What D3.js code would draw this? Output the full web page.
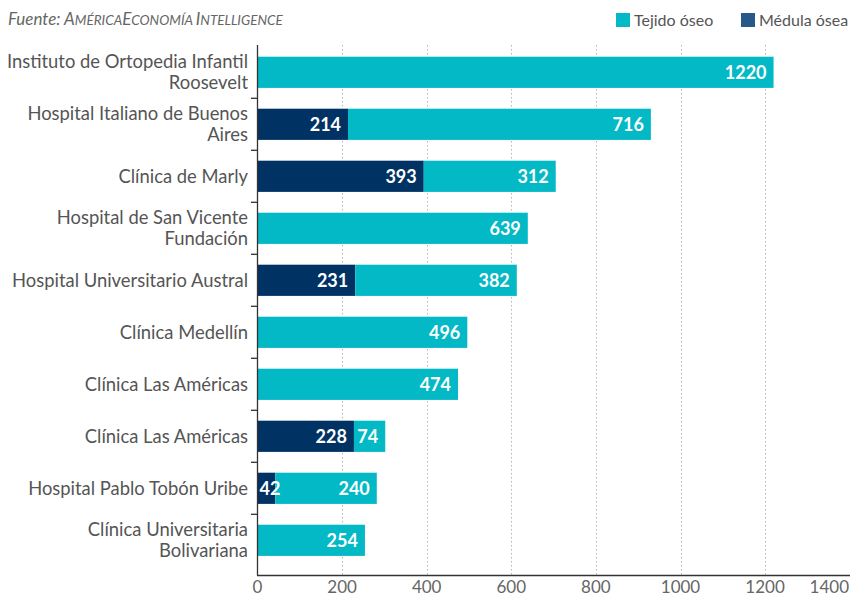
<!DOCTYPE html>
<html><head><meta charset="utf-8">
<script src="https://cdn.jsdelivr.net/npm/d3@7"></script>
<style>
html,body{margin:0;padding:0;background:#fff;}
svg{display:block;font-family:Lato,"Open Sans",sans-serif;}
</style></head>
<body>
<svg id="c" width="850" height="596"></svg>
<script>
const categories = [
  ["Instituto de Ortopedia Infantil","Roosevelt"],
  ["Hospital Italiano de Buenos","Aires"],
  ["Clínica de Marly"],
  ["Hospital de San Vicente","Fundación"],
  ["Hospital Universitario Austral"],
  ["Clínica Medellín"],
  ["Clínica Las Américas"],
  ["Clínica Las Américas"],
  ["Hospital Pablo Tobón Uribe"],
  ["Clínica Universitaria","Bolivariana"]
];
const medulaOsea = [0,214,393,0,231,0,0,228,42,0];
const tejidoOseo = [1220,716,312,639,382,496,474,74,240,254];
const xTicks = [0,200,400,600,800,1000,1200,1400];
const legendLabels = ["Tejido óseo","Médula ósea"];

const teal = "#03b9c6", navy = "#013264", navyLegend = "#27588a";
const svg = d3.select("#c");

const x = d3.scaleLinear().domain([0,1400]).range([257.5,849.7]);
const y = d3.scaleBand().domain(d3.range(categories.length)).range([46.3,566.3]).paddingInner(0.4).paddingOuter(0.2);

// gridlines
svg.append("g").selectAll("line").data(xTicks.slice(1)).join("line")
  .attr("x1",d=>Math.round(x(d))+0.5).attr("x2",d=>Math.round(x(d))+0.5)
  .attr("y1",45).attr("y2",575)
  .attr("stroke","#b5b5b5").attr("stroke-width",1).attr("stroke-dasharray","1.5,2.5");

// bars
const rows = categories.map((c,i)=>({i, m:medulaOsea[i], t:tejidoOseo[i]}));
const segs = [];
rows.forEach(r=>{
  if(r.m>0) segs.push({i:r.i, x0:0, x1:r.m, v:r.m, color:navy});
  segs.push({i:r.i, x0:r.m, x1:r.m+r.t, v:r.t, color:teal});
});
svg.append("g").selectAll("rect").data(segs).join("rect")
  .attr("x",d=>x(d.x0)).attr("width",d=>x(d.x1)-x(d.x0))
  .attr("y",d=>y(d.i)).attr("height",y.bandwidth())
  .attr("fill",d=>d.color);

// value labels
const vl = svg.append("g").selectAll("text").data(segs).join("text")
  .attr("y",d=>y(d.i)+y.bandwidth()/2).attr("dy","0.36em")
  .attr("fill","#fff").attr("font-weight","bold").attr("font-size","18px")
  .text(d=>d.v);
vl.each(function(d){
  const w = this.getComputedTextLength();
  const end = x(d.x1)-7, start = x(d.x0)+2;
  const el = d3.select(this);
  if(end - w < start){ el.attr("x",start).attr("text-anchor","start"); }
  else { el.attr("x",end).attr("text-anchor","end"); }
});

// y axis line and ticks
svg.append("line").attr("x1",257.5).attr("x2",257.5).attr("y1",45).attr("y2",575.5)
  .attr("stroke","#333").attr("stroke-width",1.3);
const gap = y.step()-y.bandwidth();
svg.append("g").selectAll("line").data(d3.range(1,categories.length)).join("line")
  .attr("x1",251).attr("x2",257.5)
  .attr("y1",d=>y(d)-gap/2).attr("y2",d=>y(d)-gap/2)
  .attr("stroke","#333").attr("stroke-width",1.3);

// x axis line
svg.append("line").attr("x1",257).attr("x2",850).attr("y1",575.5).attr("y2",575.5)
  .attr("stroke","#333").attr("stroke-width",1.3);

// category labels
const cl = svg.append("g").selectAll("text").data(categories).join("text")
  .attr("text-anchor","end").attr("fill","#555").attr("font-size","18.4px");
cl.each(function(lines,i){
  const cy = y(i)+y.bandwidth()/2;
  const lh = 21;
  const top = cy - (lines.length-1)*lh/2;
  d3.select(this).selectAll("tspan").data(lines).join("tspan")
    .attr("x",248).attr("y",(l,j)=>top+j*lh).attr("dy","0.36em").text(l=>l);
});

// x tick labels (last one kept inside the frame)
const lastTick = xTicks[xTicks.length-1];
svg.append("g").selectAll("text").data(xTicks).join("text")
  .attr("x",d=>d===lastTick ? 849 : x(d)).attr("y",593)
  .attr("text-anchor",d=>d===lastTick ? "end" : "middle")
  .attr("fill","#666").attr("font-size","17px").text(d=>d);

// source (small caps)
const src = svg.append("text").attr("x",8).attr("y",25).attr("fill","#666")
  .attr("font-size","17px").attr("font-style","italic");
src.append("tspan").text("Fuente: ");
const parts = [["A",1],["MÉRICA",0],["E",1],["CONOMÍA ",0],["I",1],["NTELLIGENCE",0]];
parts.forEach(p=>src.append("tspan").attr("font-size",p[1]?"17px":"13.5px").text(p[0]));

// legend
const leg = [{l:legendLabels[0],c:teal,x:616},{l:legendLabels[1],c:navyLegend,x:741}];
const lg = svg.append("g").selectAll("g").data(leg).join("g");
lg.append("rect").attr("x",d=>d.x).attr("y",13).attr("width",14).attr("height",14).attr("fill",d=>d.c);
lg.append("text").attr("x",d=>d.x+18).attr("y",20).attr("dy","0.36em")
  .attr("fill","#555").attr("font-size","16px").text(d=>d.l);
</script>
</body></html>
